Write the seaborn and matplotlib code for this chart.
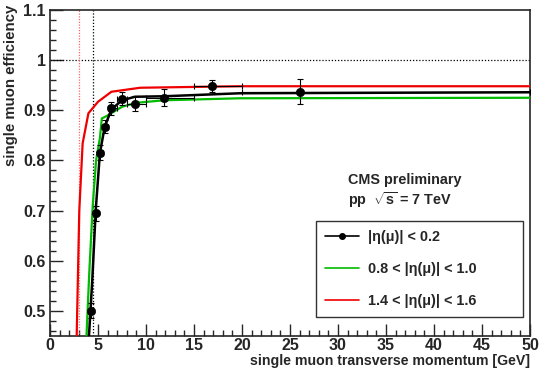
import numpy as np
import pandas as pd
import matplotlib
matplotlib.use("Agg")
import matplotlib.pyplot as plt
from matplotlib.ticker import MultipleLocator
from matplotlib.lines import Line2D
import seaborn as sns

# ---- data ----
pt_pts = [4.27, 4.8, 5.2, 5.7, 6.4, 7.5, 8.9, 11.9, 16.9, 26.0]
eff_pts = [0.500, 0.695, 0.815, 0.867, 0.904, 0.923, 0.913, 0.925, 0.949, 0.937]
eff_err = [0.015, 0.015, 0.015, 0.013, 0.013, 0.013, 0.015, 0.017, 0.012, 0.025]
pt_lo = [4.0, 4.5, 5.0, 5.5, 6.0, 7.0, 8.0, 10.0, 15.0, 20.0]
pt_hi = [4.5, 5.0, 5.5, 6.0, 7.0, 8.0, 10.0, 15.0, 20.0, 50.0]

black_x = [4.06, 4.4, 4.76, 5.2, 5.7, 6.4, 7.5, 8.85, 11.9, 19.8, 50.0]
black_y = [0.45, 0.56, 0.70, 0.815, 0.867, 0.902, 0.920, 0.927, 0.928, 0.934, 0.936]
green_x = [3.8, 4.1, 4.45, 4.8, 5.2, 5.4, 5.75, 7.5, 9.0, 11.9, 19.8, 50.0]
green_y = [0.45, 0.58, 0.71, 0.80, 0.845, 0.884, 0.887, 0.907, 0.915, 0.920, 0.924, 0.925]
red_x = [2.78, 3.05, 3.4, 4.0, 5.0, 6.4, 9.4, 19.8, 50.0]
red_y = [0.45, 0.70, 0.834, 0.894, 0.917, 0.937, 0.945, 0.948, 0.948]

labels = ["|η(μ)| < 0.2", "0.8 < |η(μ)| < 1.0", "1.4 < |η(μ)| < 1.6"]
x_ticks = [0, 5, 10, 15, 20, 25, 30, 35, 40, 45, 50]
y_ticks = [0.5, 0.6, 0.7, 0.8, 0.9, 1.0, 1.1]
y_tick_labels = ["0.5", "0.6", "0.7", "0.8", "0.9", "1", "1.1"]

sns.set_style("ticks")
plt.rcParams["font.family"] = ["Liberation Sans", "DejaVu Sans"]
plt.rcParams["mathtext.fontset"] = "custom"
plt.rcParams["mathtext.rm"] = "Liberation Sans:bold"
plt.rcParams["mathtext.bf"] = "Liberation Sans:bold"

fig = plt.figure(figsize=(5.39, 3.68), dpi=100)
ax = fig.add_axes([50 / 539, 1 - 336 / 368, 480 / 539, 326 / 368])

# reference dotted lines
ax.axhline(1.0, color="black", ls=(0, (1, 1.5)), lw=0.9, zorder=1)
ax.axvline(4.5, color="black", ls=(0, (1, 1.5)), lw=0.9, zorder=1)
ax.axvline(3.0, color="#ff6666", ls=(0, (1, 1.2)), lw=0.9, zorder=1)

df_b = pd.DataFrame({"x": black_x, "y": black_y})
df_g = pd.DataFrame({"x": green_x, "y": green_y})
df_r = pd.DataFrame({"x": red_x, "y": red_y})
sns.lineplot(data=df_r, x="x", y="y", color="#ee0000", lw=1.6, ax=ax, sort=False, zorder=3)
sns.lineplot(data=df_g, x="x", y="y", color="#00bb00", lw=1.6, ax=ax, sort=False, zorder=3)
sns.lineplot(data=df_b, x="x", y="y", color="black", lw=1.8, ax=ax, sort=False, zorder=4)

xp = np.array(pt_pts)
xerr = [xp - np.array(pt_lo), np.array(pt_hi) - xp]
ax.errorbar(pt_pts, eff_pts, yerr=eff_err, xerr=xerr, fmt="none", ecolor="black",
            elinewidth=0.8, capsize=2, capthick=0.8, zorder=5)
df_p = pd.DataFrame({"x": pt_pts, "y": eff_pts})
sns.scatterplot(data=df_p, x="x", y="y", color="black", s=36, edgecolor="black", ax=ax, zorder=6)

ax.set_xlim(0, 50)
ax.set_ylim(0.45, 1.1)
ax.set_xticks(x_ticks)
ax.set_yticks(y_ticks)
ax.set_yticklabels(y_tick_labels)
ax.xaxis.set_minor_locator(MultipleLocator(1))
ax.yaxis.set_minor_locator(MultipleLocator(0.02))
ax.tick_params(which="both", direction="in", top=False, right=False, width=1)
ax.tick_params(which="major", length=9, labelsize=11.5, pad=3)
ax.tick_params(axis="x", which="major", pad=1.2)
ax.tick_params(which="minor", length=4.5)
for lab in ax.get_xticklabels() + ax.get_yticklabels():
    lab.set_fontweight("bold")
for s in ax.spines.values():
    s.set_linewidth(1.2)
    s.set_visible(True)

ax.set_xlabel("single muon transverse momentum [GeV]", fontsize=10.2, fontweight="bold",
              loc="right")
ax.xaxis.set_label_coords(1.0, -0.054)
ax.set_ylabel("single muon efficiency", fontsize=10.8, fontweight="bold", loc="top")
ax.yaxis.set_label_coords(-0.066, 1.015)

ax.text(31.0, 0.761, "CMS preliminary", fontsize=10.4, fontweight="bold", va="center")
ax.text(31.0, 0.721, r"pp  $\sqrt{\mathbf{s}}$ = 7 TeV", fontsize=10.4, fontweight="bold", va="center")

handles = [Line2D([], [], color="black", lw=1.2, marker="o", ms=4),
           Line2D([], [], color="#00bb00", lw=1.2),
           Line2D([], [], color="#ee0000", lw=1.2)]
leg = ax.legend(handles, labels, loc="lower left", bbox_to_anchor=(27.7 / 50, (0.488 - 0.45) / 0.65,
                (49.3 - 27.7) / 50, (0.678 - 0.488) / 0.65),
                mode="expand", frameon=True, fancybox=False, edgecolor="black",
                prop={"weight": "bold", "size": 10.4}, handlelength=2.4, handletextpad=0.6,
                labelspacing=1.25, borderpad=0.6, borderaxespad=0)
leg.get_frame().set_linewidth(1.0)

fig.savefig("out.png", dpi=100)
